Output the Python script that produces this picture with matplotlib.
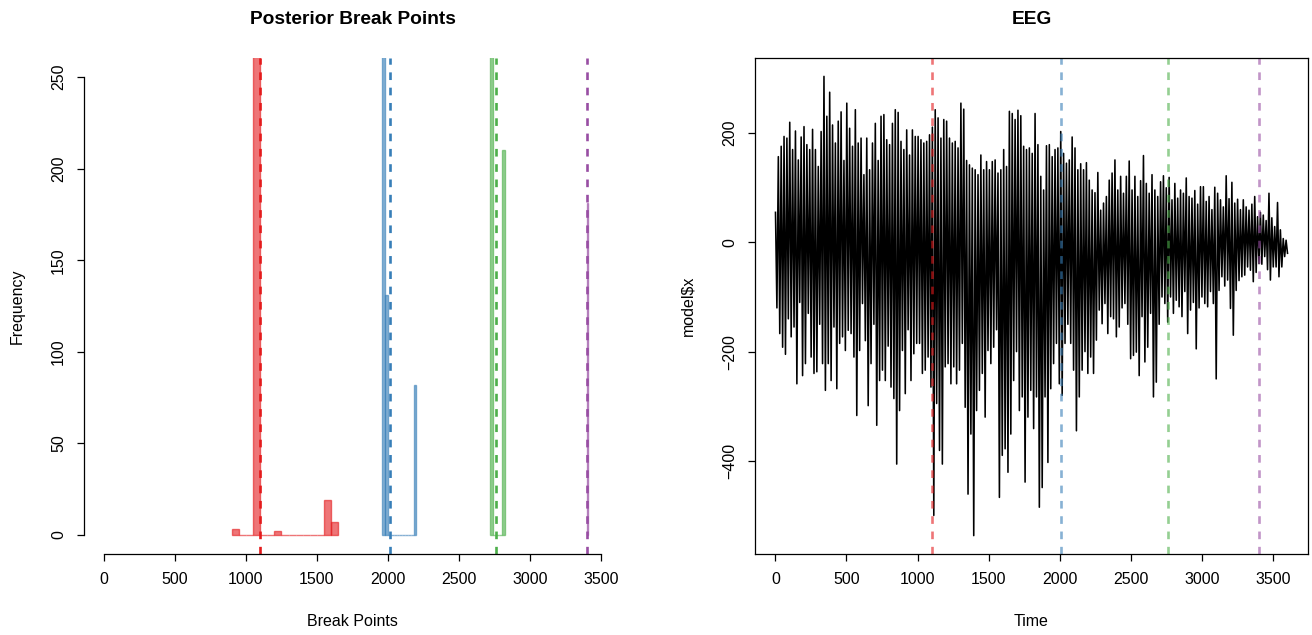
import numpy as np
import matplotlib
matplotlib.use('Agg')  # no display
import matplotlib.pyplot as plt
from matplotlib.colors import to_rgba

# Set1 palette, one colour per break point
colores = ['#E41A1C', '#377EB8', '#4DAF4A', '#984EA3']

# posterior samples of each break point, binned (first bin edge, bin width, counts)
red_start, red_width = 900, 50
red_counts = [3, 0, 0, 469, 0, 0, 2, 0, 0, 0, 0, 0, 0, 19, 7]
blue_start, blue_width = 1960, 20
blue_counts = [287, 131, 0, 0, 0, 0, 0, 0, 0, 0, 0, 82]
green_start, green_width = 2720, 20
green_counts = [290, 0, 0, 0, 210]
purple_start, purple_width = 3400, 5
purple_counts = [181]

# posterior mean of each break point
break_points = [1101, 2011, 2760, 3400]

# EEG trace, alternating local maxima / minima (20 time units per pair)
eeg_peaks = [
    # 0 - 500
    55, 157, 176, 194, 191, 220, 170, 204, 151, 193, 212, 179, 170,
    207, 170, 139, 203, 304, 231, 275, 215, 182, 222, 239, 150,
    # 500 - 1000
    255, 209, 176, 243, 182, 191, 124, 191, 133, 182, 218, 150, 231,
    234, 188, 179, 218, 243, 238, 185, 170, 206, 160, 206, 194,
    # 1000 - 1500
    194, 188, 182, 185, 197, 211, 243, 228, 191, 225, 222, 191, 182,
    185, 173, 255, 244, 150, 142, 136, 133, 124, 160, 133, 148,
    # 1500 - 2000
    133, 148, 151, 127, 133, 170, 139, 240, 236, 225, 242, 232, 176,
    170, 173, 163, 236, 179, 121, 96, 177, 179, 157, 170, 173,
    # 2000 - 2500
    203, 163, 145, 151, 193, 173, 133, 144, 133, 146, 114, 96, 91,
    128, 59, 72, 84, 114, 127, 151, 96, 121, 90, 121, 149,
    # 2500 - 3000
    96, 121, 84, 113, 159, 108, 90, 124, 96, 84, 111, 122, 100,
    119, 78, 108, 81, 96, 90, 118, 84, 81, 95, 70, 102,
    # 3000 - 3500
    102, 75, 84, 60, 101, 90, 78, 65, 122, 80, 110, 72, 79,
    60, 78, 65, 59, 70, 84, 47, 55, 50, 40, 90, 45,
    # 3500 - 3600
    29, 73, 23, 7, 4,
]
eeg_troughs = [
    -120, -167, -192, -205, -140, -173, -155, -259, -110, -244, -222, -130, -210,
    -240, -237, -150, -222, -271, -222, -253, -155, -268, -185, -173, -198,
    -161, -167, -210, -317, -198, -112, -180, -299, -222, -150, -335, -253, -234,
    -253, -190, -265, -286, -406, -308, -198, -277, -160, -253, -204, -185,
    -185, -240, -234, -210, -265, -500, -295, -381, -406, -228, -222, -259, -228,
    -259, -234, -185, -302, -461, -351, -537, -308, -271, -240, -320, -198,
    -222, -192, -160, -467, -390, -378, -421, -351, -253, -200, -308, -283, -439,
    -320, -271, -341, -283, -485, -449, -283, -403, -268, -222, -185, -259,
    -280, -185, -150, -185, -234, -345, -283, -234, -200, -240, -210, -240, -179,
    -124, -149, -112, -167, -136, -140, -173, -155, -120, -112, -150, -213,
    -207, -201, -244, -136, -219, -192, -130, -283, -256, -150, -100, -112, -146,
    -100, -130, -106, -118, -136, -90, -167, -124, -110, -195, -120, -100,
    -112, -118, -90, -112, -250, -88, -63, -80, -69, -121, -170, -88, -70,
    -63, -60, -45, -51, -72, -55, -39, -40, -26, -50, -69, -45,
    -45, -63, -45, -26, -20,
]

plt.rcParams['font.family'] = ['Liberation Sans', 'DejaVu Sans']
plt.rcParams['font.size'] = 11.5

fig = plt.figure(figsize=(13.12, 6.35), dpi=100)
W, H = 1312, 635
ax1 = fig.add_axes([84 / W, 81 / H, 537 / W, 496 / H])
ax2 = fig.add_axes([755 / W, 81 / H, 553 / W, 496 / H])

dash = (0, (2.9, 2.9))

# --- histogram panel ---
hists = [
    (red_start, red_width, red_counts),
    (blue_start, blue_width, blue_counts),
    (green_start, green_width, green_counts),
    (purple_start, purple_width, purple_counts),
]
for (start, width, counts), c in zip(hists, colores):
    lefts = start + width * np.arange(len(counts))
    ax1.bar(lefts, counts, width=width, align='edge',
            color=to_rgba(c, 0.6), edgecolor=to_rgba(c, 0.6), linewidth=1.0)

for bp, c in zip(break_points, colores):
    ax1.axvline(bp, color=c, lw=1.9, linestyle=dash)

ax1.set_xlim(-140, 3640)
ax1.set_ylim(-10.4, 260.4)
ax1.set_xticks(np.arange(0, 3501, 500))
ax1.set_yticks(np.arange(0, 251, 50))
ax1.spines['top'].set_visible(False)
ax1.spines['right'].set_visible(False)
ax1.spines['bottom'].set_bounds(0, 3500)
ax1.spines['left'].set_bounds(0, 250)
ax1.text(0.5, 1 + 38 / 496, 'Posterior Break Points', transform=ax1.transAxes,
         ha='center', va='center', fontsize=13.8, fontweight='bold')
ax1.set_xlabel('Break Points', va='center')
ax1.xaxis.set_label_coords(0.5, -67 / 496)
ax1.set_ylabel('Frequency', va='center')
ax1.yaxis.set_label_coords(-67 / 537, 0.5)

# --- EEG trace ---
eeg = np.empty(2 * len(eeg_peaks))
eeg[0::2] = eeg_peaks
eeg[1::2] = eeg_troughs
time = np.linspace(1, 3600, len(eeg))

ax2.plot(time, eeg, color='black', lw=1.15)
for bp, c in zip(break_points, colores):
    ax2.axvline(bp, color=c, alpha=0.6, lw=1.9, linestyle=dash)

lo, hi = eeg.min(), eeg.max()
ax2.set_xlim(1 - 0.04 * 3599, 3600 + 0.04 * 3599)
ax2.set_ylim(lo - 0.04 * (hi - lo), hi + 0.04 * (hi - lo))
ax2.set_xticks(np.arange(0, 3501, 500))
ax2.set_yticks([-400, -200, 0, 200])
ax2.text(0.5, 1 + 38 / 496, 'EEG', transform=ax2.transAxes,
         ha='center', va='center', fontsize=13.8, fontweight='bold')
ax2.set_xlabel('Time', va='center')
ax2.xaxis.set_label_coords(0.5, -67 / 496)
ax2.set_ylabel(r'model\$x', va='center')
ax2.yaxis.set_label_coords(-67 / 553, 0.5)

for ax in (ax1, ax2):
    for s in ax.spines.values():
        s.set_linewidth(0.9)
    ax.tick_params(direction='out', length=5, width=0.9, pad=8)
    ax.tick_params(axis='y', labelrotation=90)
    for lab in ax.get_yticklabels():
        lab.set_va('center')

fig.savefig('out.png', dpi=100)
